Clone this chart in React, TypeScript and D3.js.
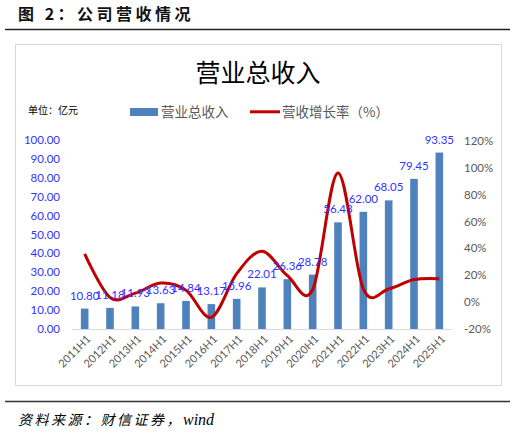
import React from "react";
import * as d3 from "d3";

const categories = [
  "2011H1", "2012H1", "2013H1", "2014H1", "2015H1", "2016H1", "2017H1", "2018H1",
  "2019H1", "2020H1", "2021H1", "2022H1", "2023H1", "2024H1", "2025H1",
];
// 营业总收入（亿元）
const revenue = [10.8, 11.18, 11.93, 13.63, 14.84, 13.17, 15.96, 22.01, 26.36, 28.78, 56.43, 62.0, 68.05, 79.45, 93.35];
// 营收增长率（%）
const growth = [36, 3.5, 6.7, 14.2, 8.9, -11.3, 21.2, 37.9, 19.8, 9.2, 96.1, 9.9, 9.8, 16.8, 17.5];
const leftTicks = [0, 10, 20, 30, 40, 50, 60, 70, 80, 90, 100];
const rightTicks = [-20, 0, 20, 40, 60, 80, 100, 120];

const W = 515;
const H = 434;
const plot = { left: 72, right: 452, top: 140, bottom: 329 };

const cjk = "'Noto Sans CJK SC', 'Noto Sans', sans-serif";
const num = "Lato, 'Open Sans', sans-serif";

export default function App() {
  const x = d3
    .scaleBand()
    .domain(categories)
    .range([plot.left, plot.right])
    .paddingInner(0.7)
    .paddingOuter(0.35);
  const yL = d3.scaleLinear().domain([0, 100]).range([plot.bottom, plot.top]);
  const yR = d3.scaleLinear().domain([-20, 120]).range([plot.bottom, 141]);

  const cx = (c) => x(c) + x.bandwidth() / 2;

  const line = d3
    .line()
    .x((d, i) => cx(categories[i]))
    .y((d) => yR(d))
    .curve(d3.curveCardinal.tension(0));

  return (
    <svg width={W} height={H} style={{ position: "absolute", left: 0, top: 0 }}>
      <rect width={W} height={H} fill="#fff" />
      {/* figure heading */}
      <text x={18} y={20} fontFamily={cjk} fontWeight="bold" fontSize={16} letterSpacing={3.5} fill="#111">
        图 2：公司营收情况
      </text>
      <line x1={5} x2={510} y1={29.5} y2={29.5} stroke="#222" strokeWidth={1.6} />

      {/* chart frame */}
      <rect x={15.5} y={44.5} width={486} height={341} fill="#fff" stroke="#d9d9d9" />
      <text x={258} y={82} textAnchor="middle" fontFamily={cjk} fontSize={25} fill="#000">
        营业总收入
      </text>
      <text x={28} y={114} fontFamily={cjk} fontSize={10} fill="#000">
        单位：亿元
      </text>

      {/* legend */}
      <rect x={130} y={108} width={28} height={8} fill="#4F81BD" />
      <text x={161} y={116.5} fontFamily={cjk} fontSize={13.5} fill="#595959">
        营业总收入
      </text>
      <line x1={250} x2={280} y1={111.8} y2={111.8} stroke="#C00000" strokeWidth={3} />
      <text x={282} y={116.5} fontFamily={cjk} fontSize={13.5} fill="#595959">
        营收增长率（%）
      </text>

      {/* left axis labels */}
      {leftTicks.map((t) => (
        <text key={t} x={60} y={yL(t)} dy="0.35em" textAnchor="end" fontFamily={num} fontSize={11.5} fill="#3333FF">
          {t.toFixed(2)}
        </text>
      ))}
      {/* right axis labels */}
      {rightTicks.map((t) => (
        <text key={t} x={464} y={yR(t)} dy="0.35em" fontFamily={num} fontSize={11.5} fill="#595959">
          {t}%
        </text>
      ))}

      {/* bars */}
      {revenue.map((v, i) => (
        <rect
          key={categories[i]}
          x={x(categories[i])}
          y={yL(v)}
          width={x.bandwidth()}
          height={yL(0) - yL(v)}
          fill="#4F81BD"
        />
      ))}
      <line x1={plot.left} x2={plot.right} y1={plot.bottom + 0.5} y2={plot.bottom + 0.5} stroke="#d9d9d9" />

      {/* x labels */}
      {categories.map((c) => (
        <text
          key={c}
          transform={`translate(${cx(c) + 4},${plot.bottom + 8}) rotate(-45)`}
          textAnchor="end"
          dy="0.35em"
          fontFamily={num}
          fontSize={11}
          fill="#595959"
        >
          {c}
        </text>
      ))}

      {/* growth line */}
      <path d={line(growth)} fill="none" stroke="#C00000" strokeWidth={3} />

      {/* data labels */}
      {revenue.map((v, i) => (
        <text
          key={categories[i]}
          x={cx(categories[i])}
          y={yL(v) - 9}
          textAnchor="middle"
          fontFamily={num}
          fontSize={11.5}
          fill="#3333FF"
        >
          {v.toFixed(2)}
        </text>
      ))}

      {/* source */}
      <line x1={5} x2={510} y1={401.5} y2={401.5} stroke="#333" strokeWidth={1.6} />
      <text x={18} y={425} fontFamily={cjk} fontStyle="italic" fontSize={14} letterSpacing={2.5} fill="#000">
        资料来源：财信证券，
        <tspan fontFamily="'Liberation Serif', serif" fontSize={16} letterSpacing={0}>
          wind
        </tspan>
      </text>
    </svg>
  );
}
